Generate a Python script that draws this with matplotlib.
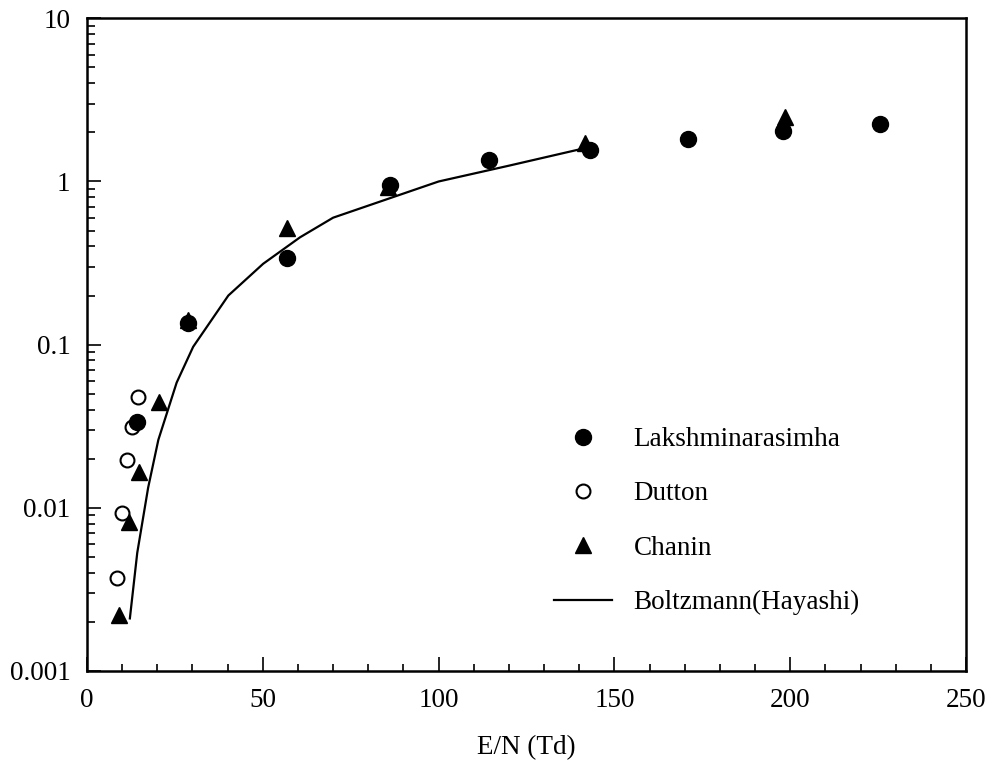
import matplotlib
matplotlib.use('Agg')
import matplotlib.pyplot as plt
from matplotlib.ticker import FixedLocator, FixedFormatter, LogLocator, MultipleLocator, NullFormatter

plt.rcParams['font.family'] = ['Liberation Serif', 'DejaVu Serif']

# Lakshminarasimha (filled circles)
lak_x = [14.2, 28.7, 56.9, 86.2, 114.3, 143, 171, 198, 225.5]
lak_y = [0.0335, 0.136, 0.342, 0.945, 1.35, 1.57, 1.81, 2.05, 2.24]

# Dutton (open circles)
dut_x = [8.5, 10.0, 11.5, 12.8, 14.5]
dut_y = [0.0037, 0.0093, 0.0197, 0.0314, 0.048]

# Chanin (triangles)
cha_x = [9.1, 12.0, 14.8, 20.5, 28.7, 57.0, 85.6, 141.6, 198.5]
cha_y = [0.0022, 0.0082, 0.0166, 0.0443, 0.142, 0.52, 0.93, 1.72, 2.5]

# Boltzmann (Hayashi) line
bol_x = [12.2, 14.3, 17.4, 20.3, 25.5, 30.2, 40.2, 50.1, 60.6, 70, 100, 120, 141]
bol_y = [0.0021, 0.0053, 0.0133, 0.0261, 0.0585, 0.097, 0.2, 0.313, 0.455, 0.6, 1.0, 1.25, 1.59]

fig = plt.figure(figsize=(9.95, 7.63), dpi=100)
ax = fig.add_axes([0.0874, 0.1206, 0.8836, 0.8554])

ax.plot(lak_x, lak_y, 'o', color='black', markersize=11.5, label='Lakshminarasimha', zorder=4)
ax.plot(dut_x, dut_y, 'o', markerfacecolor='white', markeredgecolor='black',
        markeredgewidth=1.5, markersize=10, label='Dutton', zorder=3)
ax.plot(cha_x, cha_y, '^', color='black', markersize=11.5, label='Chanin', zorder=3)
ax.plot(bol_x, bol_y, '-', color='black', linewidth=1.6, label='Boltzmann(Hayashi)', zorder=2)

ax.set_yscale('log')
ax.set_xlim(0, 250)
ax.set_ylim(0.001, 10)

ax.xaxis.set_major_locator(MultipleLocator(50))
ax.xaxis.set_minor_locator(MultipleLocator(10))
ax.yaxis.set_major_locator(FixedLocator([0.001, 0.01, 0.1, 1, 10]))
ax.yaxis.set_major_formatter(FixedFormatter(['0.001', '0.01', '0.1', '1', '10']))
ax.yaxis.set_minor_locator(LogLocator(base=10, subs=range(2, 10)))
ax.yaxis.set_minor_formatter(NullFormatter())

ax.tick_params(which='both', direction='in', top=False, right=False, labelsize=19.5, width=1.2)
ax.tick_params(axis='x', which='major', length=10, pad=12)
ax.tick_params(axis='x', which='minor', length=5)
ax.tick_params(axis='y', which='major', length=10, pad=12)
ax.tick_params(axis='y', which='minor', length=6)

for s in ax.spines.values():
    s.set_linewidth(1.8)

ax.set_xlabel('E/N (Td)', fontsize=19.5, labelpad=16)

ax.legend(loc='upper left', bbox_to_anchor=(0.503, 0.411), frameon=False, fontsize=19.5,
          handlelength=2.15, handletextpad=0.8, labelspacing=1.08, numpoints=1)

fig.savefig('out.png', dpi=100)
